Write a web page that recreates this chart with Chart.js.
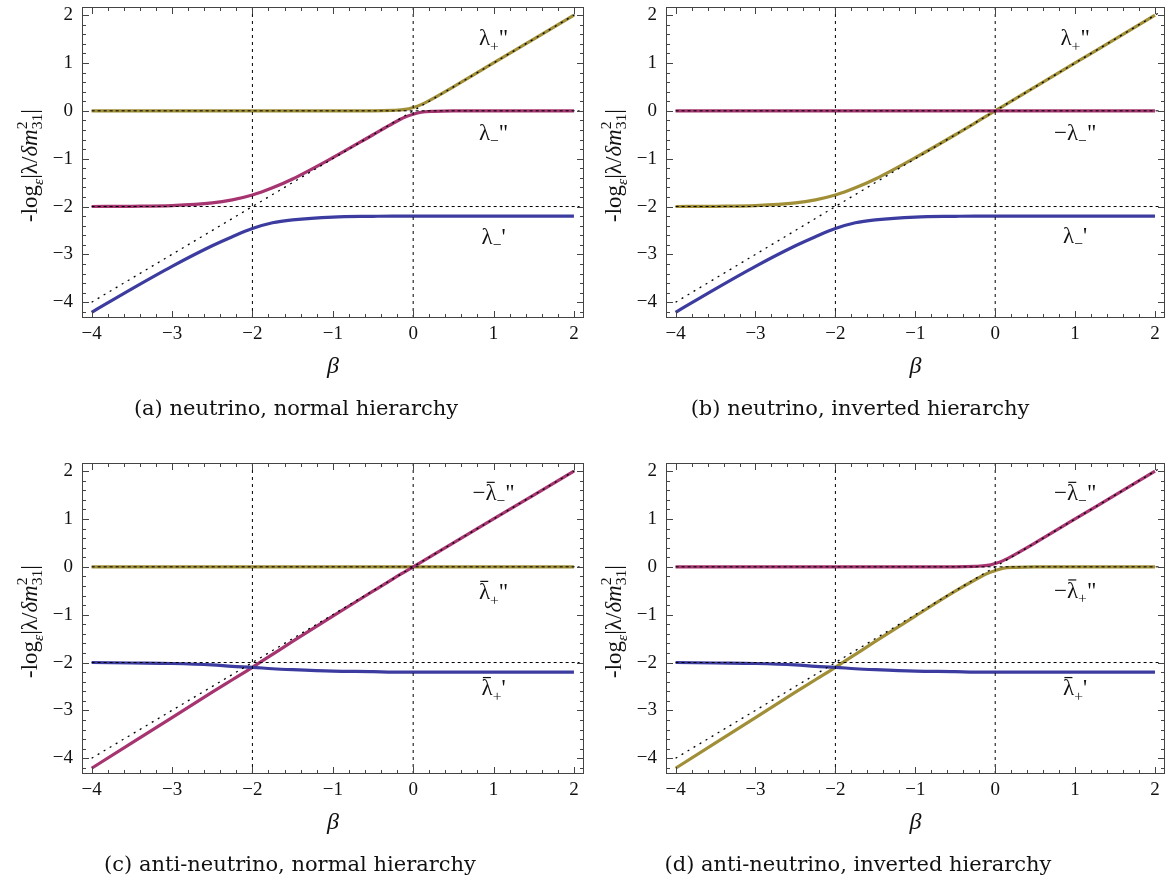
<!DOCTYPE html>
<html>
<head>
<meta charset="utf-8">
<script src="https://cdn.jsdelivr.net/npm/chart.js@4/dist/chart.umd.min.js"></script>
<style>
  html, body { margin: 0; padding: 0; background: #fff; }
  #wrap { position: relative; width: 1174px; height: 885px; overflow: hidden; }
  canvas { position: absolute; }
</style>
</head>
<body>
<div id="wrap">
  <canvas id="pa" width="590" height="456" style="left:0;top:0"></canvas>
  <canvas id="pb" width="590" height="456" style="left:584px;top:0"></canvas>
  <canvas id="pc" width="590" height="429" style="left:0;top:456px"></canvas>
  <canvas id="pd" width="590" height="429" style="left:584px;top:456px"></canvas>
</div>
<script>
// beta grid the curves were read at
const beta = [-4, -3.5, -3, -2.5, -2.25, -2, -1.75, -1.5, -1, -0.5, -0.25, -0.1, 0, 0.1, 0.25, 0.5, 1, 1.5, 2];

// (a) neutrino, normal hierarchy
const yellowA  = [0, 0, 0, 0, 0, 0, 0, 0, 0, 0, 0.01, 0.03, 0.07, 0.13, 0.26, 0.5, 1, 1.5, 2];
const magentaA = [-2, -1.995, -1.98, -1.925, -1.86, -1.76, -1.61, -1.425, -0.98, -0.5, -0.26, -0.13, -0.07, -0.03, -0.01, 0, 0, 0, 0];
const blueA    = [-4.21, -3.72, -3.25, -2.82, -2.63, -2.46, -2.34, -2.28, -2.22, -2.205, -2.2, -2.2, -2.2, -2.2, -2.2, -2.2, -2.2, -2.2, -2.2];

// (b) neutrino, inverted hierarchy
const yellowB  = [-2, -1.995, -1.98, -1.925, -1.86, -1.76, -1.61, -1.425, -0.98, -0.5, -0.25, -0.1, 0, 0.1, 0.25, 0.5, 1, 1.5, 2];
const magentaB = [0, 0, 0, 0, 0, 0, 0, 0, 0, 0, 0, 0, 0, 0, 0, 0, 0, 0, 0];
const blueB    = [-4.21, -3.72, -3.25, -2.82, -2.63, -2.46, -2.34, -2.28, -2.22, -2.205, -2.2, -2.2, -2.2, -2.2, -2.2, -2.2, -2.2, -2.2, -2.2];

// (c) anti-neutrino, normal hierarchy
const yellowC  = [0, 0, 0, 0, 0, 0, 0, 0, 0, 0, 0, 0, 0, 0, 0, 0, 0, 0, 0];
const magentaC = [-4.21, -3.68, -3.15, -2.62, -2.36, -2.1, -1.83, -1.56, -1.03, -0.51, -0.25, -0.1, 0, 0.1, 0.25, 0.5, 1, 1.5, 2];
const blueC    = [-2, -2.01, -2.02, -2.05, -2.08, -2.1, -2.13, -2.15, -2.18, -2.19, -2.2, -2.2, -2.2, -2.2, -2.2, -2.2, -2.2, -2.2, -2.2];

// (d) anti-neutrino, inverted hierarchy
const yellowD  = [-4.21, -3.68, -3.15, -2.62, -2.36, -2.1, -1.83, -1.56, -1.03, -0.51, -0.27, -0.14, -0.08, -0.03, -0.01, 0, 0, 0, 0];
const magentaD = [0, 0, 0, 0, 0, 0, 0, 0, 0, 0, 0.01, 0.03, 0.07, 0.13, 0.26, 0.5, 1, 1.5, 2];
const blueD    = [-2, -2.01, -2.02, -2.05, -2.08, -2.1, -2.13, -2.15, -2.18, -2.19, -2.2, -2.2, -2.2, -2.2, -2.2, -2.2, -2.2, -2.2, -2.2];

// dotted guide lines
const diagSpan = [-4, 2.05];     // y = beta
const hLevels  = [0, -2];
const hSpan    = [-4, 2.07];
const vLevels  = [-2, 0];

// axes
const xTicks = [-4, -3, -2, -1, 0, 1, 2];
const yTicks = [-4, -3, -2, -1, 0, 1, 2];
const X_MIN = -4.12, X_MAX = 2.125;
const Y_MIN = -4.33, Y_MAX = 2.17;

// curve labels (data coords)
const labelX = [1, 1, 1];
const labelYA = [1.52, -0.47, -2.64];
const labelYB = [1.52, -0.47, -2.62];
const labelYC = [1.54, -0.53, -2.54];
const labelYD = [1.54, -0.5, -2.54];

const captions = [
  '(a) neutrino, normal hierarchy',
  '(b) neutrino, inverted hierarchy',
  '(c) anti-neutrino, normal hierarchy',
  '(d) anti-neutrino, inverted hierarchy'
];

const YELLOW = 'rgb(160, 143, 55)';
const MAGENTA = 'rgb(165, 52, 112)';
const BLUE = 'rgb(60, 60, 160)';
const SERIF = '"Liberation Serif", "Times New Roman", serif';

const PLOT_TOP = 7;
const PLOT_BOTTOM = 318;

function curve(ys, color) {
  return {
    data: beta.map((b, i) => ({ x: b, y: ys[i] })),
    borderColor: color,
    borderWidth: 3.2,
    pointRadius: 0,
    cubicInterpolationMode: 'monotone',
    order: 2,
  };
}

function guide(points, dash, width) {
  return {
    data: points,
    borderColor: '#000',
    borderWidth: width || 1,
    borderDash: dash,
    pointRadius: 0,
    tension: 0,
    order: 1,
  };
}

function guides() {
  const out = [];
  out.push(guide(diagSpan.map(v => ({ x: v, y: v })), [2, 5], 1.3));
  hLevels.forEach(h => out.push(guide(hSpan.map(v => ({ x: v, y: h })), [3, 3])));
  vLevels.forEach(v => out.push(guide([{ x: v, y: Y_MIN }, { x: v, y: Y_MAX }], [3, 4])));
  return out;
}

// draw text made of pieces: {t, it, sub, sup, stack:[sup, sub], bar}
function richWidth(ctx, segs, size) {
  let w = 0;
  segs.forEach(s => {
    if (s.stack) {
      ctx.font = `${size * 0.68}px ${SERIF}`;
      w += Math.max(ctx.measureText(s.stack[0]).width, ctx.measureText(s.stack[1]).width);
    } else {
      const fs = (s.sub || s.sup) ? size * 0.68 : size;
      ctx.font = `${s.it ? 'italic ' : ''}${fs}px ${SERIF}`;
      w += ctx.measureText(s.t).width + (s.gap || 0);
    }
  });
  return w;
}

function drawRich(ctx, segs, cx, baseY, size) {
  let x = cx - richWidth(ctx, segs, size) / 2;
  ctx.textAlign = 'left';
  ctx.textBaseline = 'alphabetic';
  segs.forEach(s => {
    if (s.stack) {
      const fs = size * 0.68;
      ctx.font = `${fs}px ${SERIF}`;
      ctx.fillText(s.stack[0], x, baseY - size * 0.42);
      ctx.fillText(s.stack[1], x, baseY + size * 0.22);
      x += Math.max(ctx.measureText(s.stack[0]).width, ctx.measureText(s.stack[1]).width);
      return;
    }
    const fs = (s.sub || s.sup) ? size * 0.68 : size;
    ctx.font = `${s.it ? 'italic ' : ''}${fs}px ${SERIF}`;
    let y = baseY;
    if (s.sub) y += size * 0.25;
    if (s.sup) y -= size * 0.4;
    ctx.fillText(s.t, x, y);
    const w = ctx.measureText(s.t).width;
    if (s.bar) {
      ctx.fillRect(x + w * 0.12, baseY - size * 0.8, w * 0.72, 1.2);
    }
    x += w + (s.gap || 0);
  });
}

const yTitle = [
  { t: '-log' },
  { t: 'ε', it: true, sub: true },
  { t: '|λ/' },
  { t: 'δm', it: true },
  { stack: ['2', '31'] },
  { t: '|' },
];

function labelSegs(spec) {
  const segs = [];
  if (spec.minus) segs.push({ t: '−' });
  segs.push({ t: 'λ', bar: spec.bar });
  segs.push({ t: spec.sign, sub: true });
  segs.push({ t: spec.prime });
  return segs;
}

const decorPlugin = {
  id: 'decor',
  afterDatasetsDraw(chart) {
    const { ctx, chartArea: a } = chart;
    const x = chart.scales.x, y = chart.scales.y;
    ctx.save();
    ctx.strokeStyle = '#444';
    ctx.lineWidth = 1;
    ctx.strokeRect(a.left + 0.5, a.top + 0.5, a.right - a.left - 1, a.bottom - a.top - 1);
    ctx.beginPath();
    for (let k = -25; k <= 15; k++) {
      const v = k / 5;
      const len = k % 5 === 0 ? 7 : 4;
      const px = Math.round(x.getPixelForValue(v)) + 0.5;
      if (px > a.left + 1 && px < a.right - 1) {
        ctx.moveTo(px, a.bottom); ctx.lineTo(px, a.bottom - len);
        ctx.moveTo(px, a.top); ctx.lineTo(px, a.top + len);
      }
      const py = Math.round(y.getPixelForValue(v)) + 0.5;
      if (py > a.top + 1 && py < a.bottom - 1) {
        ctx.moveTo(a.left, py); ctx.lineTo(a.left + len, py);
        ctx.moveTo(a.right, py); ctx.lineTo(a.right - len, py);
      }
    }
    ctx.stroke();
    ctx.restore();
  },
  afterDraw(chart, args, opts) {
    const { ctx, chartArea: a } = chart;
    const x = chart.scales.x, y = chart.scales.y;
    ctx.save();
    ctx.fillStyle = '#111';
    // curve labels
    opts.labels.forEach(l => {
      const px = x.getPixelForValue(l.x);
      const py = y.getPixelForValue(l.y);
      drawRich(ctx, labelSegs(l), px, py + 7, 23);
    });
    // y title
    ctx.save();
    ctx.translate(37, (a.top + a.bottom) / 2 + 3);
    ctx.rotate(-Math.PI / 2);
    drawRich(ctx, yTitle, 0, 0, 23);
    ctx.restore();
    // x title
    ctx.font = `italic 24px ${SERIF}`;
    ctx.textAlign = 'center';
    ctx.textBaseline = 'middle';
    ctx.fillText('β', (a.left + a.right) / 2, a.bottom + 49);
    // caption
    ctx.font = '21px "DejaVu Serif", serif';
    ctx.fillText(opts.caption, opts.capX, a.bottom + 92);
    ctx.restore();
  },
};

function minusFmt(v) {
  return v < 0 ? '−' + Math.abs(v) : String(v);
}

function makeChart(id, series, labels, caption, capX, padRight) {
  const datasets = guides().concat([
    curve(series[2], BLUE),
    curve(series[1], MAGENTA),
    curve(series[0], YELLOW),
  ]);
  return new Chart(document.getElementById(id), {
    type: 'line',
    data: { datasets },
    plugins: [decorPlugin],
    options: {
      responsive: false,
      animation: false,
      layout: { padding: { left: 7, top: PLOT_TOP, right: padRight, bottom: 0 } },
      plugins: {
        legend: { display: false },
        tooltip: { enabled: false },
        decor: { labels, caption, capX },
      },
      scales: {
        x: {
          type: 'linear',
          min: X_MIN,
          max: X_MAX,
          afterBuildTicks: s => { s.ticks = xTicks.map(v => ({ value: v })); },
          afterFit: s => {
            s.height = s.chart.height - PLOT_BOTTOM;
            s.paddingLeft = 0; s.paddingRight = 0;
          },
          grid: { display: false, drawTicks: false },
          border: { display: false },
          ticks: {
            padding: 5,
            color: '#111',
            font: { family: SERIF, size: 19 },
            maxRotation: 0,
            callback: minusFmt,
          },
        },
        y: {
          type: 'linear',
          min: Y_MIN,
          max: Y_MAX,
          afterBuildTicks: s => { s.ticks = yTicks.map(v => ({ value: v })); },
          afterFit: s => {
            s.width = 75;
            s.paddingTop = 0; s.paddingBottom = 0;
          },
          grid: { display: false, drawTicks: false },
          border: { display: false },
          ticks: {
            padding: 9,
            color: '#111',
            font: { family: SERIF, size: 19 },
            callback: minusFmt,
          },
        },
      },
    },
  });
}

function labelSpecs(ys, specs) {
  return specs.map((s, i) => Object.assign({ x: labelX[i], y: ys[i] }, s));
}

makeChart('pa', [yellowA, magentaA, blueA], labelSpecs(labelYA, [
  { sign: '+', prime: '"' }, { sign: '−', prime: '"' }, { sign: '−', prime: "'" },
]), captions[0], 296, 6);

makeChart('pb', [yellowB, magentaB, blueB], labelSpecs(labelYB, [
  { sign: '+', prime: '"' }, { minus: true, sign: '−', prime: '"' }, { sign: '−', prime: "'" },
]), captions[1], 276, 9);

makeChart('pc', [yellowC, magentaC, blueC], labelSpecs(labelYC, [
  { minus: true, bar: true, sign: '−', prime: '"' }, { bar: true, sign: '+', prime: '"' }, { bar: true, sign: '+', prime: "'" },
]), captions[2], 290, 6);

makeChart('pd', [yellowD, magentaD, blueD], labelSpecs(labelYD, [
  { minus: true, bar: true, sign: '−', prime: '"' }, { minus: true, bar: true, sign: '+', prime: '"' }, { bar: true, sign: '+', prime: "'" },
]), captions[3], 274, 9);
</script>
</body>
</html>
